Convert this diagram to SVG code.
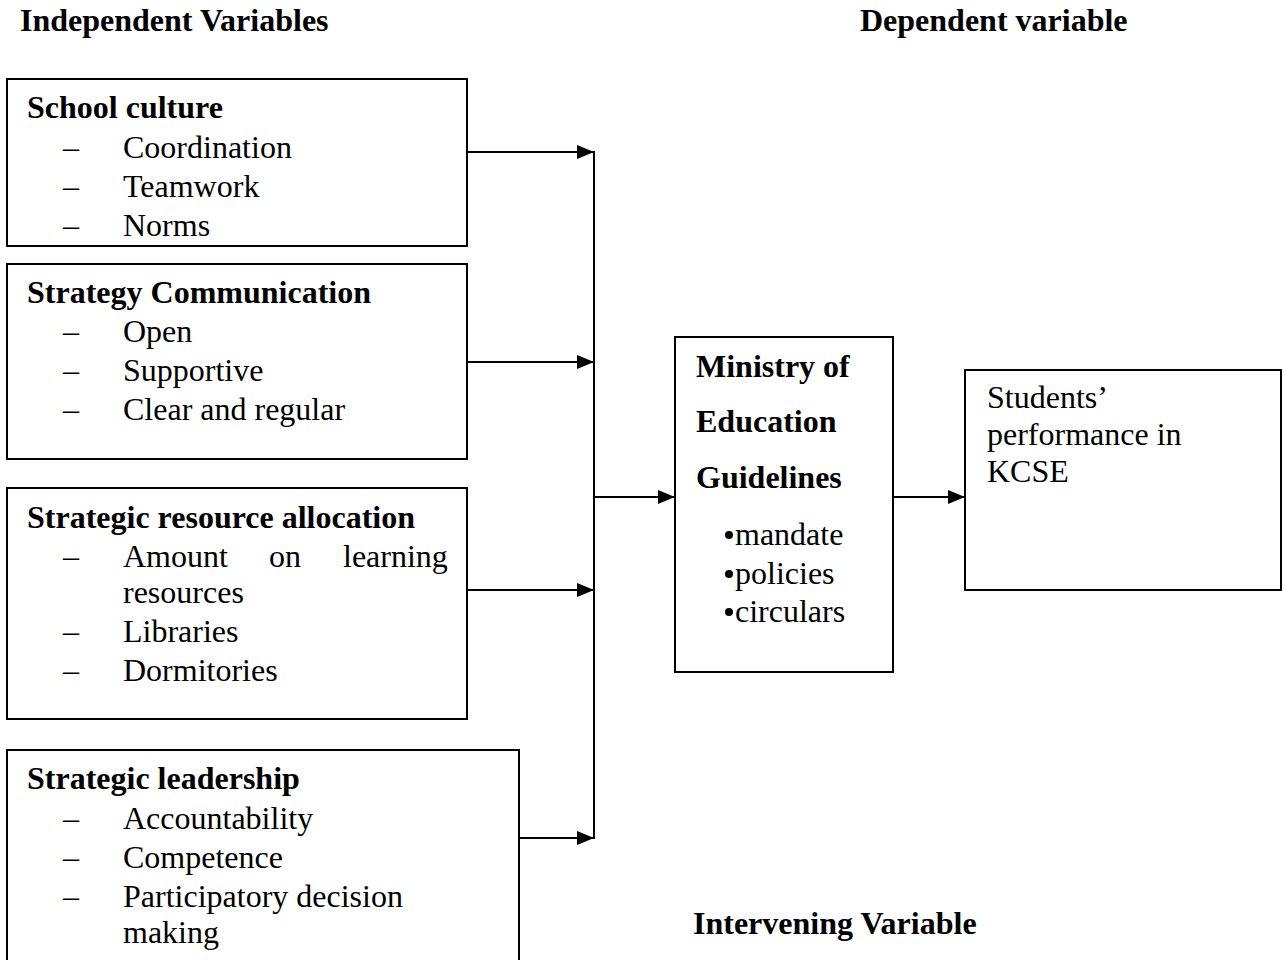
<svg xmlns="http://www.w3.org/2000/svg" width="1284" height="960" viewBox="0 0 1284 960">
<style>
text{font-family:"Liberation Serif","Times New Roman",serif;font-size:32px;fill:#000}
.b{font-weight:bold}
.box{fill:#fff;stroke:#000;stroke-width:2}
.con{stroke:#000;stroke-width:2;fill:none}
</style>
<defs>
<marker id="ah" viewBox="0 0 17 14" refX="17" refY="7" markerWidth="17" markerHeight="14" markerUnits="userSpaceOnUse" orient="auto">
<path d="M0,0 L17,7 L0,14 Z" fill="#000"/>
</marker>
</defs>
<rect width="1284" height="960" fill="#fff"/>
<g id="headings">
<text class="b" x="20" y="31">Independent Variables</text>
<text class="b" x="860" y="31">Dependent variable</text>
<text class="b" x="693" y="934">Intervening Variable</text>
</g>
<g id="connectors">
<line class="con" x1="467" y1="152" x2="594" y2="152" marker-end="url(#ah)"/>
<line class="con" x1="467" y1="362" x2="594" y2="362" marker-end="url(#ah)"/>
<line class="con" x1="467" y1="590" x2="594" y2="590" marker-end="url(#ah)"/>
<line class="con" x1="519" y1="838" x2="594" y2="838" marker-end="url(#ah)"/>
<line class="con" x1="594" y1="151" x2="594" y2="839"/>
<line class="con" x1="594" y1="497" x2="675" y2="497" marker-end="url(#ah)"/>
<line class="con" x1="893" y1="497" x2="965" y2="497" marker-end="url(#ah)"/>
</g>
<g id="school-culture">
<rect class="box" x="7" y="79" width="460" height="167"/>
<text class="b" x="27" y="118">School culture</text>
<text x="63" y="158">–</text><text x="123" y="158">Coordination</text>
<text x="63" y="197">–</text><text x="123" y="197">Teamwork</text>
<text x="63" y="236">–</text><text x="123" y="236">Norms</text>
</g>
<g id="strategy-communication">
<rect class="box" x="7" y="264" width="460" height="195"/>
<text class="b" x="27" y="303">Strategy Communication</text>
<text x="63" y="342">–</text><text x="123" y="342">Open</text>
<text x="63" y="381">–</text><text x="123" y="381">Supportive</text>
<text x="63" y="420">–</text><text x="123" y="420">Clear and regular</text>
</g>
<g id="resource-allocation">
<rect class="box" x="7" y="488" width="460" height="231"/>
<text class="b" x="27" y="528">Strategic resource allocation</text>
<text x="63" y="567">–</text><text x="123" y="567">Amount</text><text x="269" y="567">on</text><text x="343" y="567">learning</text>
<text x="123" y="603">resources</text>
<text x="63" y="642">–</text><text x="123" y="642">Libraries</text>
<text x="63" y="681">–</text><text x="123" y="681">Dormitories</text>
</g>
<g id="strategic-leadership">
<rect class="box" x="7" y="750" width="512" height="240"/>
<text class="b" x="27" y="789">Strategic leadership</text>
<text x="63" y="829">–</text><text x="123" y="829">Accountability</text>
<text x="63" y="868">–</text><text x="123" y="868">Competence</text>
<text x="63" y="907">–</text><text x="123" y="907">Participatory decision</text>
<text x="123" y="943">making</text>
</g>
<g id="moe-guidelines">
<rect class="box" x="675" y="337" width="218" height="335"/>
<text class="b" x="696" y="377">Ministry of</text>
<text class="b" x="696" y="432">Education</text>
<text class="b" x="696" y="488">Guidelines</text>
<circle cx="729" cy="535" r="4"/><text x="735" y="545">mandate</text>
<circle cx="729" cy="574" r="4"/><text x="735" y="584">policies</text>
<circle cx="729" cy="612" r="4"/><text x="735" y="622">circulars</text>
</g>
<g id="students-performance">
<rect class="box" x="965" y="370" width="316" height="220"/>
<text x="987" y="408">Students’</text>
<text x="987" y="445">performance in</text>
<text x="987" y="482">KCSE</text>
</g>
</svg>
